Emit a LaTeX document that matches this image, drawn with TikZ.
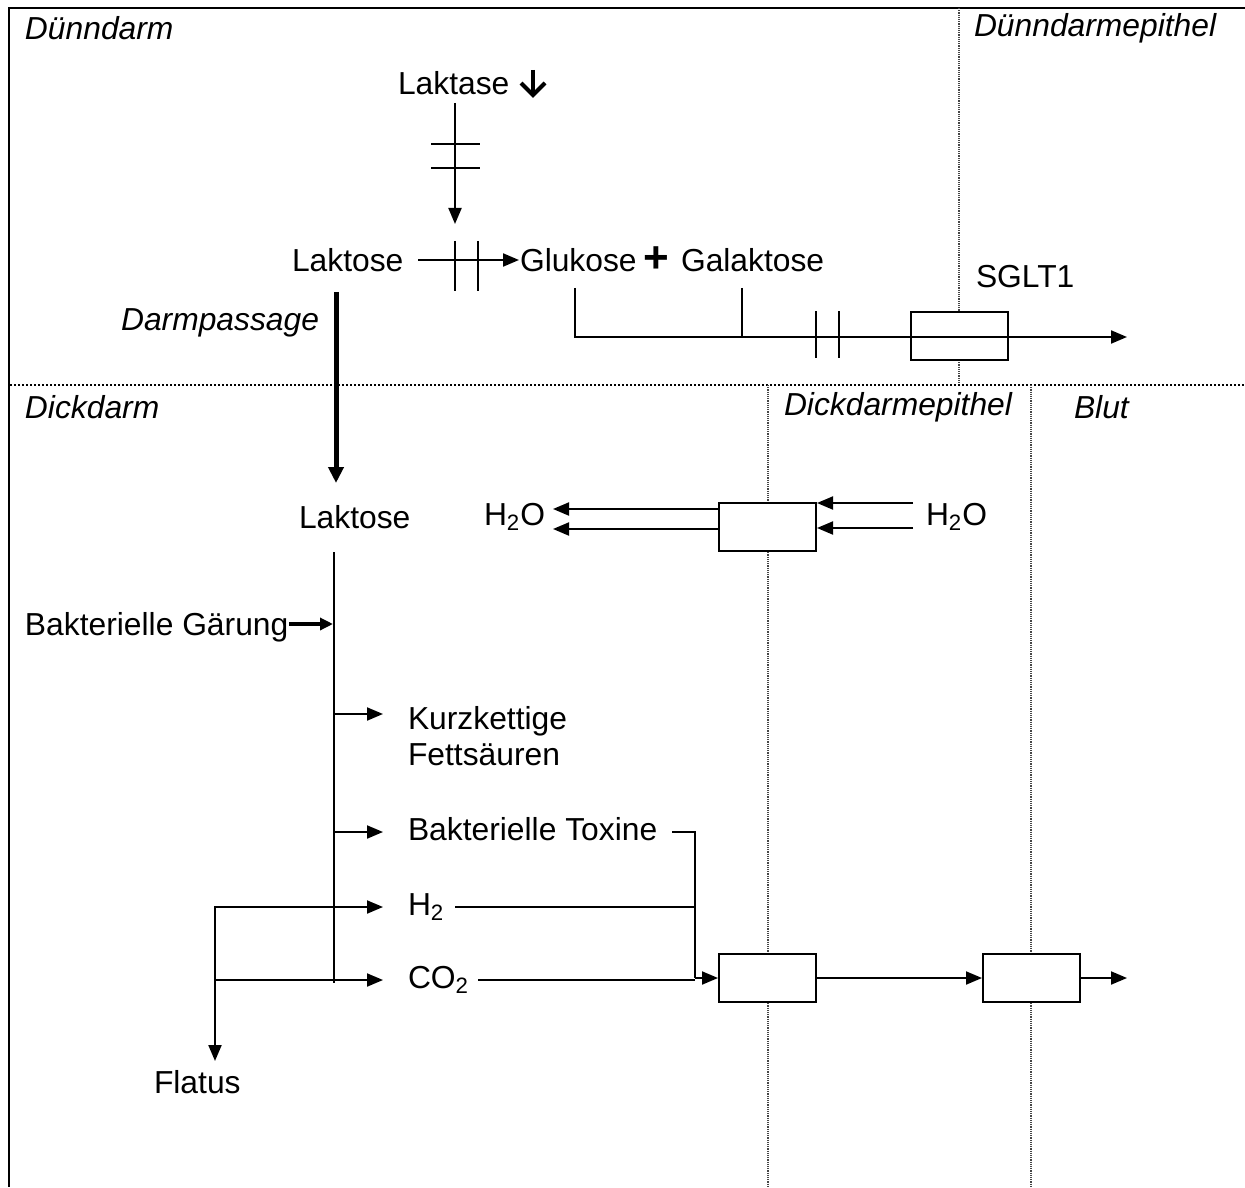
\documentclass[tikz,border=0pt]{standalone}
\usepackage{fontspec}
\setmainfont{Liberation Sans}
\usetikzlibrary{arrows.meta}
\begin{document}
\begin{tikzpicture}[x=0.5pt,y=-0.5pt,
  font=\fontsize{15.9}{18}\selectfont,
  every path/.style={line width=1pt},
  arr/.style={-{Triangle[length=8pt,width=6.5pt]}},
  tbox/.style={draw,fill=white,line width=1pt,minimum width=48.5pt,minimum height=24pt,inner sep=0pt},
  lbl/.style={inner sep=0pt,anchor=west},
  it/.style={lbl,font=\fontsize{15.9}{18}\selectfont\itshape},
  sep/.style={draw=gray!55!black,line width=0.8pt,dash pattern=on 0.6pt off 0.5pt},
  hsep/.style={draw=black,line width=0.9pt,dash pattern=on 1pt off 1pt},
]
\useasboundingbox (0,0) rectangle (1245,1187);

% frame and separators
\draw[line width=1.2pt] (1245,8) -- (9,8) -- (9,1187);
\draw[sep] (959,8) -- (959,385);
\draw[hsep] (10,385) -- (1245,385);
\draw[sep] (768,385) -- (768,1187);
\draw[sep] (1031,385) -- (1031,1187);

% region labels
\node[it] (dd)  at (24,28)   {Dünndarm};
\node[it] (dde) at (973,28)  {Dünndarmepithel};
\node[it] (dk)  at (24,407)  {Dickdarm};
\node[it] (dke) at (783,407) {Dickdarmepithel};
\node[it] (blut) at (1073,407) {Blut};

% small intestine
\node[lbl] (laktase) at (397,83) {Laktase};
\coordinate (dnA) at (533,70);
\coordinate (dnB) at (533,95);
\draw[line width=2pt] (dnA) -- (dnB);
\draw[line width=2pt,line join=miter] (521,83) -- (dnB) -- (545,83);
\coordinate (lkA) at (455,103);
\coordinate (lkB) at (455,224);
\draw[arr] (lkA) -- (lkB);
\draw (431,144) -- (480,144);
\draw (431,168) -- (480,168);

\node[lbl] (lak1) at (291,260) {Laktose};
\node[lbl] (glu) at (519,260) {Glukose};
\node[inner sep=0pt,font=\fontsize{22}{22}\selectfont\bfseries] (plus) at (656,260) {+};
\node[lbl] (gal) at (680,260) {Galaktose};
\draw[arr] ([xshift=7pt]lak1.east) -- (glu.west);
\draw (455,241) -- (455,291);
\draw (478,241) -- (478,291);

\node[tbox] (sglt) at (959.5,336) {};
\node[lbl] (sgltl) at (975,277) {SGLT1};
\coordinate (gluT) at (575,288);
\coordinate (gluB) at (575,337);
\coordinate (galT) at (742,288);
\coordinate (galB) at (742,337);
\coordinate (sgEnd) at (1127,337);
\draw (gluT) -- (gluB) -- (galB);
\draw (galT) -- (galB);
\draw[arr] (galB) -- (sgEnd);
\draw (816,311) -- (816,358);
\draw (839,311) -- (839,358);

% passage
\node[it,anchor=east] (dp) at (320,323) {Darmpassage};
\coordinate (dpA) at (336,292);
\coordinate (dpB) at (336,483);
\draw[line width=2.5pt,-{Triangle[length=8pt,width=7.5pt]}] (dpA) -- (dpB);

% large intestine
\node[lbl] (lak2) at (298,517) {Laktose};
\node[lbl] (hl) at (483,517) {H\textsubscript{2}O};
\node[lbl] (hr) at (925,517) {H\textsubscript{2}O};
\node[tbox] (wbox) at (767.5,527) {};
\coordinate (wl1) at (553,509);
\coordinate (wl2) at (553,529);
\coordinate (wr1) at (913,503);
\coordinate (wr2) at (913,528);
\draw[arr] (wbox.west |- wl1) -- (wl1);
\draw[arr] (wbox.west |- wl2) -- (wl2);
\draw[arr] (wr1) -- (wbox.east |- wr1);
\draw[arr] (wr2) -- (wbox.east |- wr2);

\coordinate (trT) at (334,552);
\coordinate (trB) at (334,983);
\draw (trT) -- (trB);

\node[lbl] (bg) at (24,627) {Bakterielle Gärung};
\coordinate (bgE) at (333,624);
\draw[line width=2pt,-{Triangle[length=6.5pt,width=6pt]}] (bg.east |- bgE) -- (bgE);

\node[lbl,align=left] (kf) at (407,736) {Kurzkettige\\Fettsäuren};
\node[lbl] (tox) at (407,829) {Bakterielle Toxine};
\node[lbl] (h2) at (407,907) {H\textsubscript{2}};
\node[lbl] (co2) at (407,980) {CO\textsubscript{2}};
\coordinate (b1) at (334,714);
\coordinate (b2) at (334,832);
\coordinate (b3) at (334,907);
\coordinate (b4) at (334,980);
\draw[arr] (b1) -- (383,714);
\draw[arr] (b2) -- (383,832);
\draw[arr] (b3) -- (383,907);
\draw[arr] (b4) -- (383,980);

% flatus
\node[lbl] (flatus) at (153,1082) {Flatus};
\coordinate (fl1) at (215,907);
\coordinate (fl2) at (215,980);
\coordinate (flE) at (215,1061);
\draw (b3) -- (fl1) -- (fl2);
\draw (b4) -- (fl2);
\draw[arr] (fl2) -- (flE);

% absorption into blood
\node[tbox] (box1) at (767.5,978) {};
\node[tbox] (box2) at (1031.5,978) {};
\coordinate (jT) at (695,832);
\coordinate (jH) at (695,907);
\coordinate (jC) at (695,978);
\coordinate (outE) at (1127,978);
\draw (672,832) -- (jT) -- (jC);
\draw (455,907) -- (jH);
\draw (478,980) -- (695,980);
\draw[arr] (jC) -- (box1.west);
\draw[arr] (box1.east) -- (box2.west);
\draw[arr] (box2.east) -- (outE);
\end{tikzpicture}
\end{document}
